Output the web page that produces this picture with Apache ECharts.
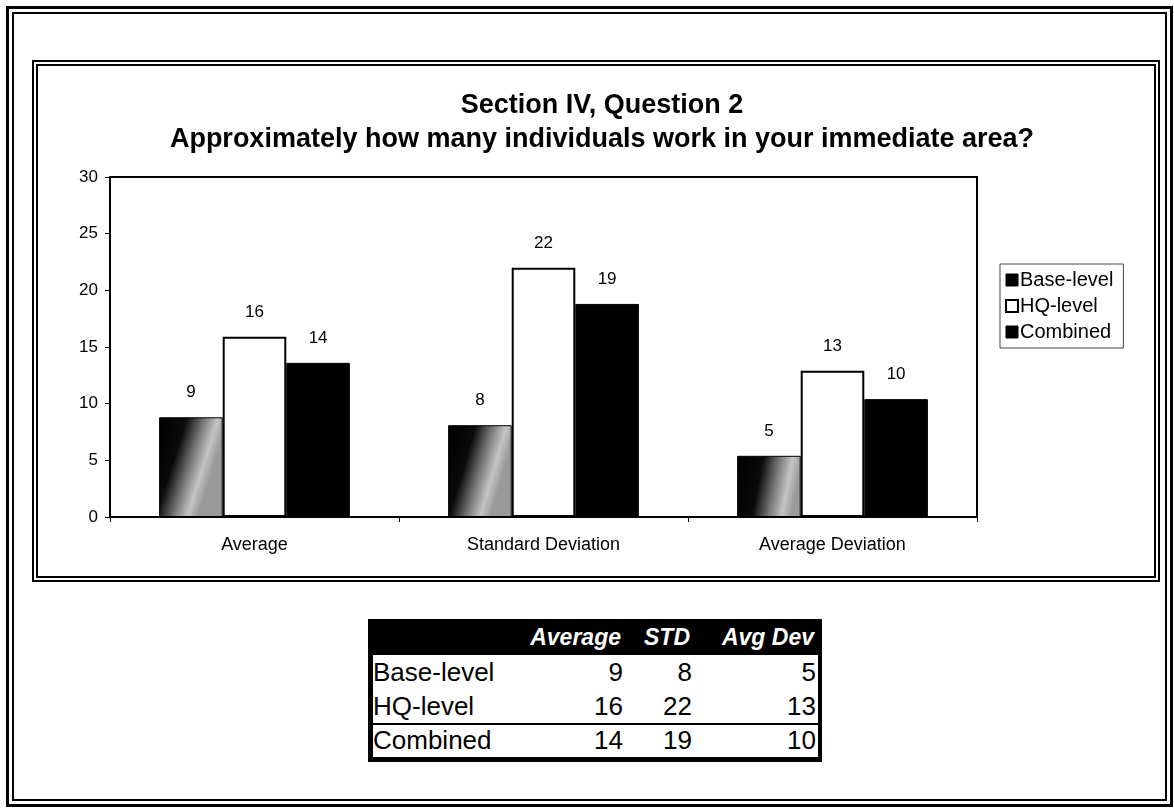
<!DOCTYPE html>
<html>
<head>
<meta charset="utf-8">
<script src="https://cdn.jsdelivr.net/npm/echarts@6/dist/echarts.min.js"></script>
<style>
  html, body { margin:0; padding:0; background:#fff; }
  #wrap { position:relative; width:1174px; height:809px; overflow:hidden; font-family:"Liberation Sans", Arial, sans-serif; }
  .box { position:absolute; box-sizing:border-box; }
  #outerA { left:6px; top:6px; width:1167px; height:801px; border:3px solid #000; }
  #outerB { left:12px; top:12px; width:1155px; height:789px; border:2px solid #000; }
  #innerF { left:32px; top:60px; width:1128px; height:522px; border:6px double #000; }
  #chart { position:absolute; left:0; top:0; width:1174px; height:809px; }
  #tbl { position:absolute; left:368px; top:619px; width:454px; background:#000; padding:0 4px 5px 5px; box-sizing:border-box; }
  .row { display:grid; grid-template-columns:150px 102px 69px 124px; }
  .hdr { height:36px; align-items:center; color:#fff; font-weight:bold; font-style:italic; font-size:23px; }
  .hdr div { text-align:right; padding-right:4px; white-space:nowrap; }
  .body { background:#fff; }
  .brow { height:34px; align-items:center; font-size:26px; color:#000; box-sizing:border-box; }
  .brow div { text-align:right; padding-right:2px; white-space:nowrap; }
  .brow div:first-child { text-align:left; padding-left:0; }
  .brow.last { border-top:2px solid #000; height:34px; padding-bottom:7px; }
</style>
</head>
<body>
<div id="wrap">
  <div class="box" id="outerA"></div>
  <div class="box" id="outerB"></div>
  <div class="box" id="innerF"></div>
  <div id="chart"></div>
  <div id="tbl"></div>
</div>
<script>
const titleLine1 = "Section IV, Question 2";
const titleLine2 = "Approximately how many individuals work in your immediate area?";
const categories = ["Average", "Standard Deviation", "Average Deviation"];
const seriesNames = ["Base-level", "HQ-level", "Combined"];
const baseLevel = [8.8, 8.1, 5.4];
const hqLevel = [15.9, 22.0, 12.9];
const combined = [13.6, 18.8, 10.4];
const tableHeaders = ["", "Average", "STD", "Avg Dev"];
const yTicks = [0, 5, 10, 15, 20, 25, 30];

const chart = echarts.init(document.getElementById('chart'), null, {renderer:'canvas'});
const baseGradient = new echarts.graphic.LinearGradient(0, 0, 1, 0.2, [
  {offset:0, color:'#000'}, {offset:0.4, color:'#0a0a0a'}, {offset:0.65, color:'#777'}, {offset:0.85, color:'#c4c4c4'}, {offset:1, color:'#9a9a9a'}
]);
const labelCfg = {
  show:true, position:'top', distance:16, color:'#000', fontSize:17,
  fontFamily:'Liberation Sans', formatter: p => Math.round(p.value)
};
chart.setOption({
  animation:false,
  backgroundColor:'transparent',
  title:{
    text: titleLine1 + "\n" + titleLine2,
    left: 597, top: 84, textAlign:'center',
    textStyle:{fontFamily:'Liberation Sans', fontWeight:'bold', fontSize:27, lineHeight:34, color:'#000'}
  },
  legend:{
    orient:'vertical', left:1000, top:264,
    padding:[6, 10, 6, 5], itemGap:6, itemWidth:12, itemHeight:12,
    borderColor:'#444', borderWidth:1,
    textStyle:{fontFamily:'Liberation Sans', fontSize:20, color:'#000', padding:[0,0,0,-3]},
    data:[
      {name:seriesNames[0], icon:'rect', itemStyle:{color:'#000', borderColor:'#000', borderWidth:1}},
      {name:seriesNames[1], icon:'rect', itemStyle:{color:'#fff', borderColor:'#000', borderWidth:2}},
      {name:seriesNames[2], icon:'rect', itemStyle:{color:'#000', borderColor:'#000', borderWidth:1}}
    ]
  },
  grid:{left:110, top:177, right:197, bottom:292, show:true, borderColor:'#000', borderWidth:2, containLabel:false},
  xAxis:{
    type:'category', data:categories,
    axisLine:{show:true, lineStyle:{color:'#000', width:2}},
    axisTick:{show:true, length:5, lineStyle:{color:'#000'}},
    axisLabel:{color:'#000', fontSize:18, fontFamily:'Liberation Sans', margin:19}
  },
  yAxis:{
    type:'value', min:yTicks[0], max:yTicks[yTicks.length-1], interval:yTicks[1]-yTicks[0],
    axisLine:{show:true, lineStyle:{color:'#000', width:2}},
    axisTick:{show:true, length:5, lineStyle:{color:'#000'}},
    axisLabel:{color:'#000', fontSize:17, fontFamily:'Liberation Sans', margin:12},
    splitLine:{show:false}
  },
  series:[
    {name:seriesNames[0], type:'bar', data:baseLevel, barGap:'0%', barCategoryGap:'34%',
     itemStyle:{color:baseGradient, borderColor:'#000', borderWidth:1}, label:labelCfg},
    {name:seriesNames[1], type:'bar', data:hqLevel, barGap:'0%', barCategoryGap:'34%',
     itemStyle:{color:'#fff', borderColor:'#000', borderWidth:2}, label:labelCfg},
    {name:seriesNames[2], type:'bar', data:combined, barGap:'0%', barCategoryGap:'34%',
     itemStyle:{color:'#000', borderColor:'#000', borderWidth:1}, label:labelCfg}
  ]
});

// Summary table built from the same arrays
const tbl = document.getElementById('tbl');
const hdr = document.createElement('div');
hdr.className = 'row hdr';
tableHeaders.forEach(h => { const d = document.createElement('div'); d.textContent = h; hdr.appendChild(d); });
tbl.appendChild(hdr);
const body = document.createElement('div');
body.className = 'body';
[baseLevel, hqLevel, combined].forEach((vals, i) => {
  const r = document.createElement('div');
  r.className = 'row brow' + (i === 2 ? ' last' : '');
  const n = document.createElement('div'); n.textContent = seriesNames[i]; r.appendChild(n);
  vals.forEach(v => { const d = document.createElement('div'); d.textContent = Math.round(v); r.appendChild(d); });
  body.appendChild(r);
});
tbl.appendChild(body);
</script>
</body>
</html>
